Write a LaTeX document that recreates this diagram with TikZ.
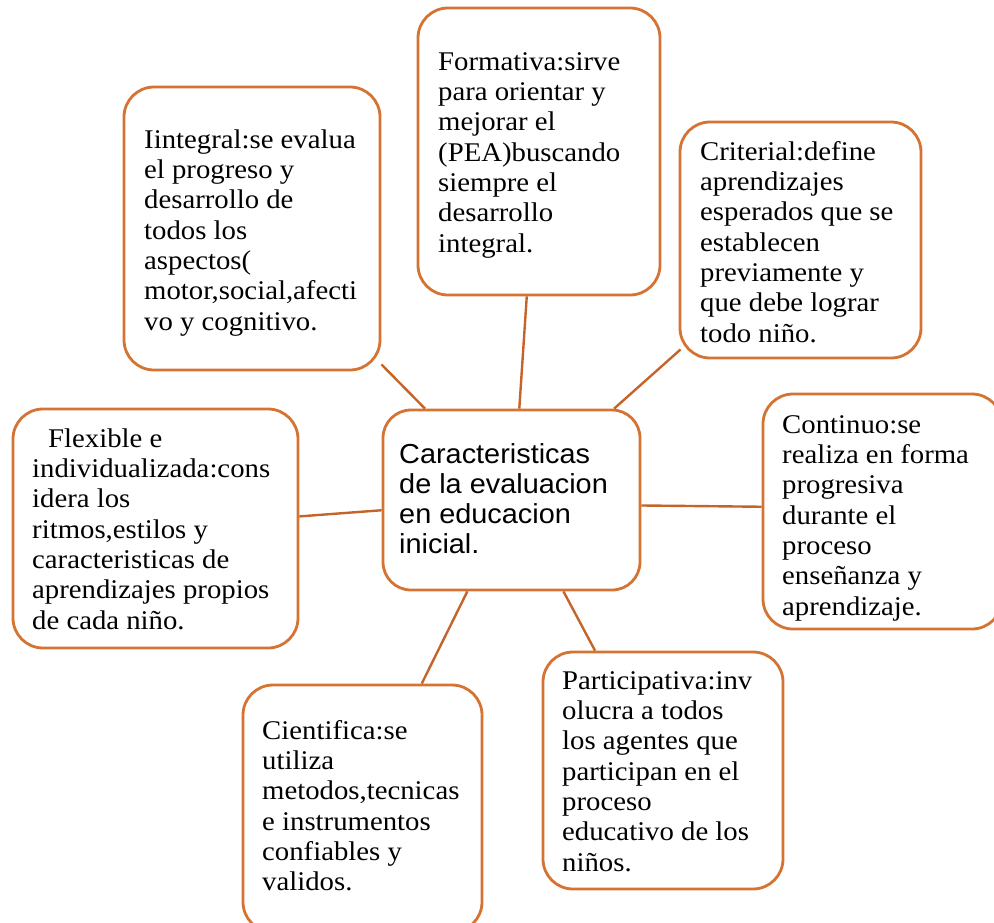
\documentclass[tikz,border=0pt]{standalone}
\usepackage{fontspec}
\setmainfont{Liberation Serif}[FakeStretch=1.065]
\newfontfamily\arialf{Liberation Sans}[FakeStretch=1.05]
\usetikzlibrary{fit,calc}
\definecolor{boxorange}{RGB}{212,115,50}
\definecolor{lineorange}{RGB}{196,100,40}
\tikzset{
  box/.style={draw=boxorange, line width=2.8pt, rounded corners=30pt, fill=white, inner sep=0pt},
  conn/.style={draw=lineorange, line width=2.4pt},
  txt/.style={anchor=north west, inner sep=0pt, align=left, yshift=21.21pt,
    font=\fontsize{27}{30.3}\selectfont},
  ctxt/.style={anchor=north west, inner sep=0pt, align=left, yshift=21pt,
    font=\arialf\fontsize{27.5}{30}\selectfont},
}
\begin{document}
\begin{tikzpicture}[x=1pt,y=-1pt]
\useasboundingbox (0,0) rectangle (994,922);
% boxes
\node[box, fit={(124,87) (380,370)}] (integral) {};
\node[box, fit={(418,8) (660,295)}] (formativa) {};
\node[box, fit={(680,122) (921,358)}] (criterial) {};
\node[box, fit={(763,394) (1002,629)}] (continuo) {};
\node[box, fit={(13,409) (298,648)}] (flexible) {};
\node[box, rounded corners=28pt, fit={(383,410) (640,590)}] (center) {};
\node[box, fit={(243,685) (482,932)}] (cientifica) {};
\node[box, fit={(543,652) (783,889)}] (participativa) {};
% connectors
\draw[conn] ([yshift=7pt]integral.south east) -- ($(center.north west)!0.167!(center.north east)$);
\draw[conn] ($(formativa.south west)!0.45!(formativa.south east)$) -- ($(center.north west)!0.53!(center.north east)$);
\draw[conn] ([xshift=2pt,yshift=10pt]criterial.south west) -- ($(center.north west)!0.895!(center.north east)$);
\draw[conn] ($(center.north east)!0.53!(center.south east)$) -- ($(continuo.north west)!0.48!(continuo.south west)$);
\draw[conn] ($(flexible.north east)!0.45!(flexible.south east)$) -- ($(center.north west)!0.556!(center.south west)$);
\draw[conn] ($(center.south west)!0.33!(center.south east)$) -- ($(cientifica.north west)!0.745!(cientifica.north east)$);
\draw[conn] ($(center.south west)!0.70!(center.south east)$) -- ($(participativa.north west)!0.22!(participativa.north east)$);
% texts
\node[txt] (tintegral) at (144,148) {\strut Iintegral:se evalua\\el progreso y\\desarrollo de\\todos los\\aspectos(\\motor,social,afecti\\vo y cognitivo.};
\node[txt] (tformativa) at (438,70) {\strut Formativa:sirve\\para orientar y\\mejorar el\\(PEA)buscando\\siempre el\\desarrollo\\integral.};
\node[txt] (tcriterial) at (700,160) {\strut Criterial:define\\aprendizajes\\esperados que se\\establecen\\previamente y\\que debe lograr\\todo niño.};
\node[txt] (tcontinuo) at (782,433) {\strut Continuo:se\\realiza en forma\\progresiva\\durante el\\proceso\\enseñanza y\\aprendizaje.};
\node[txt] (tflexible) at (32,447) {\strut\hspace*{16pt}Flexible e\\individualizada:cons\\idera los\\ritmos,estilos y\\caracteristicas de\\aprendizajes propios\\de cada niño.};
\node[txt] (tcientifica) at (262,739) {\strut Cientifica:se\\utiliza\\metodos,tecnicas\\e instrumentos\\confiables y\\validos.};
\node[txt] (tparticipativa) at (562,689) {\strut Participativa:inv\\olucra a todos\\los agentes que\\participan en el\\proceso\\educativo de los\\niños.};
\node[ctxt] (tcenter) at (399,463) {\strut Caracteristicas\\de la evaluacion\\en educacion\\inicial.};
\end{tikzpicture}
\end{document}
